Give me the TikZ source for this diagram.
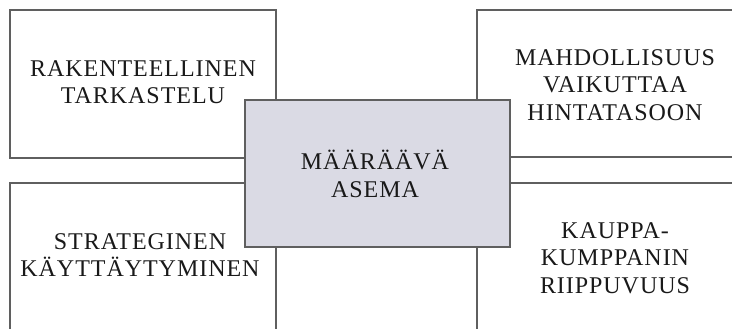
\documentclass[tikz,border=0pt]{standalone}
\usepackage{fontspec}
\setmainfont[LetterSpace=4]{Liberation Serif}
\usepackage{tikz}

\definecolor{boxgray}{RGB}{218,218,228}
\definecolor{linegray}{RGB}{95,95,95}

\begin{document}
\begin{tikzpicture}[x=1pt, y=-1pt,
  box/.style={draw=linegray, line width=1.1pt},
  caps/.style={align=center, text=black!90, font=\fontsize{24}{27.5}\selectfont}]
\clip (0,0) rectangle (732,329);

\draw[box]  (10,10) rectangle (276,158);
\draw[box]  (477,10) rectangle (760,157);
\draw[box]  (10,183) rectangle (276,345);
\draw[box]  (477,183) rectangle (760,345);

\draw[box, fill=boxgray]  (245,100) rectangle (510,247);

\node[caps] (rak) at (143,82) {RAKENTEELLINEN\\TARKASTELU};
\node[caps] (mah) at (615,85) {MAHDOLLISUUS\\VAIKUTTAA\\HINTATASOON};
\node[caps] (maa) at (375,174) {MÄÄRÄÄVÄ\\ASEMA};
\node[caps] (str) at (140,255) {STRATEGINEN\\KÄYTTÄYTYMINEN};
\node[caps] (kau) at (615,258) {KAUPPA-\\KUMPPANIN\\RIIPPUVUUS};

\end{tikzpicture}
\end{document}
